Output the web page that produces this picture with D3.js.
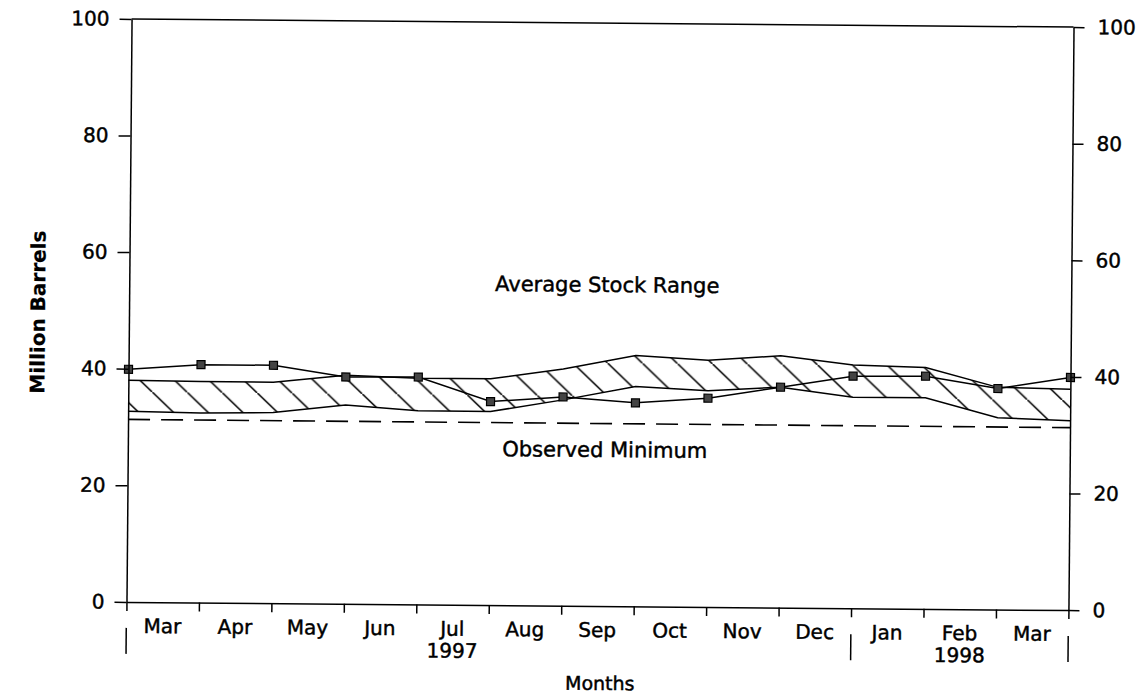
<!DOCTYPE html>
<html>
<head>
<meta charset="utf-8">
<script src="https://cdn.jsdelivr.net/npm/d3@7"></script>
<style>
  body { margin: 0; background: #fff; }
  text { font-family: "DejaVu Sans", sans-serif; fill: #000; stroke: #000; stroke-width: 0.45px; }
</style>
</head>
<body>
<div id="chart"></div>
<script>
(function() {
  // values (million barrels)
  var months = ["Mar","Apr","May","Jun","Jul","Aug","Sep","Oct","Nov","Dec","Jan","Feb","Mar"];
  var years = ["1997", "1998"];
  var yearUnder = [4, 11];          // month index the year sits under
  var yearBreaks = [0, 10, 13];     // separators between years
  var observed  = [39.9, 40.8, 40.8, 38.9, 39.0, 34.9, 35.8, 34.9, 35.8, 37.8, 39.8, 39.9, 37.9, 39.9];
  var rangeHigh = [38.0, 37.9, 37.9, 39.2, 38.8, 38.8, 40.6, 43.0, 42.3, 43.2, 41.7, 41.4, 38.1, 37.9];
  var rangeLow  = [32.7, 32.5, 32.7, 34.1, 33.2, 33.2, 35.3, 37.7, 37.1, 37.8, 36.2, 36.2, 32.9, 32.5];
  var observedMin = 31.3;
  var yTicks = [0, 20, 40, 60, 80, 100];

  var width = 1145,
      height = 695,
      left = 129,
      right = 1071,
      top = 23,
      bottom = 606;

  var svg = d3.select("#chart")
        .append("svg")
        .attr("width", width)
        .attr("height", height);

  // the original is a slightly crooked scan
  var g = svg.append("g")
        .attr("transform", "rotate(0.5,600,315)");

  var x = d3.scaleLinear().domain([0, months.length]).range([left, right]);
  var y = d3.scaleLinear().domain([0, 100]).range([bottom, top]);

  var defs = svg.append("defs");
  var hatch = defs.append("pattern")
        .attr("id", "hatch")
        .attr("patternUnits", "userSpaceOnUse")
        .attr("x", 13)
        .attr("y", 0)
        .attr("width", 35)
        .attr("height", 33);
  hatch.append("line")
        .attr("x1", -1).attr("y1", -33 / 35)
        .attr("x2", 36).attr("y2", 33 + 33 / 35)
        .attr("stroke", "#000")
        .attr("stroke-width", 1.6);

  // band
  var idx = d3.range(observed.length);

  var area = d3.area()
        .x(function(i) { return x(i); })
        .y0(function(i) { return y(rangeLow[i]); })
        .y1(function(i) { return y(rangeHigh[i]); });

  g.append("path")
    .datum(idx)
    .attr("d", area)
    .attr("fill", "url(#hatch)")
    .attr("stroke", "none");

  var line = function(arr) {
    return d3.line()
      .x(function(i) { return x(i); })
      .y(function(i) { return y(arr[i]); });
  };

  g.append("path").datum(idx).attr("d", line(rangeHigh))
    .attr("fill", "none").attr("stroke", "#000").attr("stroke-width", 1.5);
  g.append("path").datum(idx).attr("d", line(rangeLow))
    .attr("fill", "none").attr("stroke", "#000").attr("stroke-width", 1.5);

  // observed minimum
  g.append("line")
    .attr("x1", x(0)).attr("x2", x(months.length))
    .attr("y1", y(observedMin)).attr("y2", y(observedMin))
    .attr("stroke", "#000")
    .attr("stroke-width", 1.6)
    .attr("stroke-dasharray", "22,11");

  // observed stocks
  g.append("path").datum(idx).attr("d", line(observed))
    .attr("fill", "none").attr("stroke", "#000").attr("stroke-width", 1.5);

  g.selectAll(".obs-mark")
    .data(idx)
    .enter().append("rect")
    .attr("class", "obs-mark")
    .attr("x", function(i) { return x(i) - 4; })
    .attr("y", function(i) { return y(observed[i]) - 4; })
    .attr("width", 8)
    .attr("height", 8)
    .attr("fill", "#444")
    .attr("stroke", "#000")
    .attr("stroke-width", 1.2);

  // axes
  var yLeft = g.append("g")
        .attr("transform", "translate(" + left + ",0)")
        .call(d3.axisLeft(y).tickValues(yTicks).tickSize(12).tickSizeOuter(0).tickPadding(10));
  var yRight = g.append("g")
        .attr("transform", "translate(" + right + ",0)")
        .call(d3.axisRight(y).tickValues(yTicks).tickSize(11).tickSizeOuter(0).tickPadding(13));
  var xAxis = g.append("g")
        .attr("transform", "translate(0," + bottom + ")")
        .call(d3.axisBottom(x).ticks(months.length).tickSize(9).tickSizeOuter(0).tickFormat(""));

  [yLeft, yRight, xAxis].forEach(function(a) {
    a.selectAll("path, line").attr("stroke", "#000").attr("stroke-width", 1.5);
    a.selectAll("text")
      .attr("font-family", "DejaVu Sans")
      .attr("font-size", 20)
      .attr("fill", "#000");
  });

  // top border
  g.append("line")
    .attr("x1", x(0)).attr("x2", x(months.length))
    .attr("y1", y(100)).attr("y2", y(100))
    .attr("stroke", "#000").attr("stroke-width", 1.5);

  // month labels
  g.selectAll(".month")
    .data(months)
    .enter().append("text")
    .attr("class", "month")
    .attr("x", function(d, i) { return x(i + 0.5); })
    .attr("y", bottom + 31)
    .attr("text-anchor", "middle")
    .attr("font-size", 20)
    .text(function(d) { return d; });

  g.selectAll(".year")
    .data(years)
    .enter().append("text")
    .attr("class", "year")
    .attr("x", function(d, i) { return x(yearUnder[i] + 0.5); })
    .attr("y", bottom + 53)
    .attr("text-anchor", "middle")
    .attr("font-size", 20)
    .text(function(d) { return d; });

  g.selectAll(".year-sep")
    .data(yearBreaks)
    .enter().append("line")
    .attr("class", "year-sep")
    .attr("x1", function(d) { return x(d); })
    .attr("x2", function(d) { return x(d); })
    .attr("y1", bottom + 26)
    .attr("y2", bottom + 52)
    .attr("stroke", "#000")
    .attr("stroke-width", 1.5);

  g.append("text")
    .attr("x", 603)
    .attr("y", 690)
    .attr("text-anchor", "middle")
    .attr("font-size", 19)
    .text("Months");

  g.append("text")
    .attr("transform", "translate(45,317)rotate(-90)")
    .attr("text-anchor", "middle")
    .attr("font-size", 20)
    .attr("font-weight", "bold")
    .style("stroke-width", "0.2px")
    .text("Million Barrels");

  g.append("text")
    .attr("x", 607)
    .attr("y", 292)
    .attr("text-anchor", "middle")
    .attr("font-size", 21)
    .text("Average Stock Range");

  g.append("text")
    .attr("x", 606)
    .attr("y", 457)
    .attr("text-anchor", "middle")
    .attr("font-size", 21)
    .text("Observed Minimum");
})();
</script>
</body>
</html>
